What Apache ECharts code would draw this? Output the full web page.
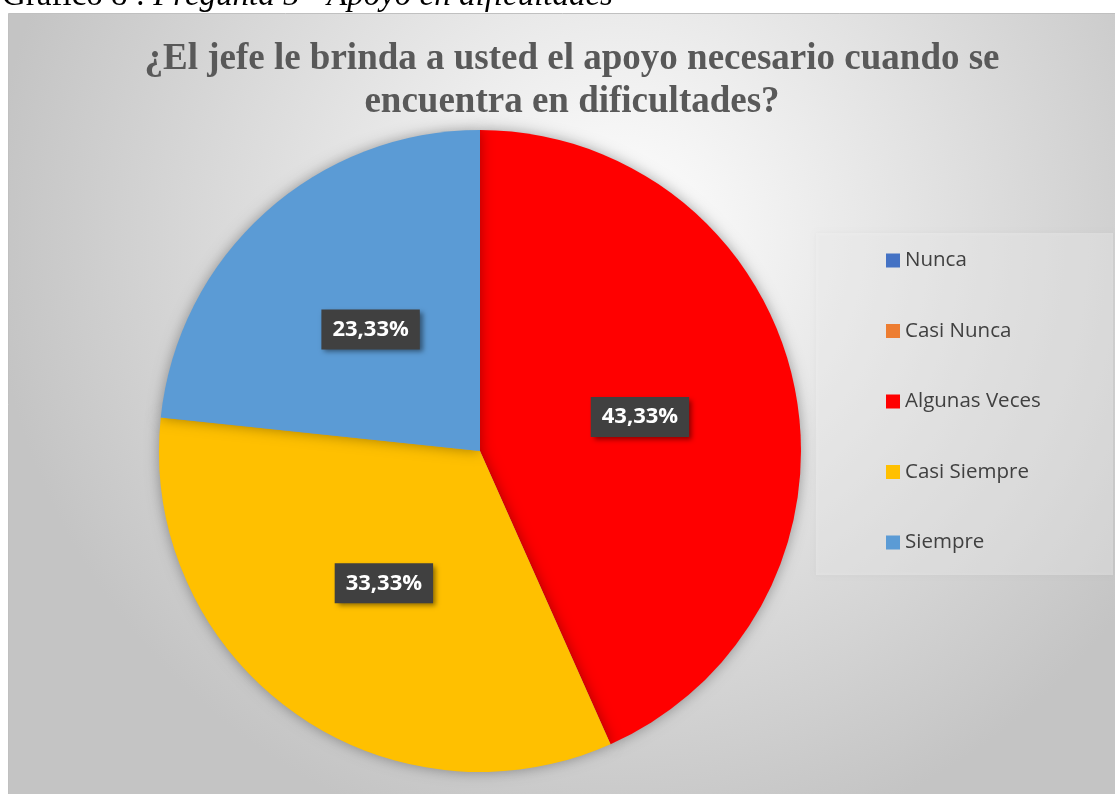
<!DOCTYPE html>
<html>
<head>
<meta charset="utf-8">
<title>Apoyo en dificultades</title>
<script src="https://cdn.jsdelivr.net/npm/echarts@6/dist/echarts.min.js"></script>
<style>
  html, body { margin: 0; padding: 0; background: #fff; }
  #chart { width: 1115px; height: 794px; }
</style>
</head>
<body>
<div id="chart"></div>
<script>
// categorías y valores (porcentajes)
const categories = ['Nunca', 'Casi Nunca', 'Algunas Veces', 'Casi Siempre', 'Siempre'];
const values = [0, 0, 43.33, 33.33, 23.33];
const colors = ['#4472C4', '#ED7D31', '#FF0000', '#FFC000', '#5B9BD5'];

const myChart = echarts.init(document.getElementById('chart'));

const options = {
    backgroundColor: '#ffffff',
    animation: false,
    color: colors,
    graphic: [
        // leyenda del gráfico (cortada arriba)
        {
            type: 'text',
            left: 2,
            top: -20,
            z: 0,
            style: {
                text: '{n|Gráfico 8 : }{i|Pregunta 5 - Apoyo en dificultades}',
                rich: {
                    n: { fontFamily: 'Liberation Serif', fontSize: 33, fill: '#000' },
                    i: { fontFamily: 'Liberation Serif', fontStyle: 'italic', fontSize: 33, fill: '#000' }
                }
            }
        },
        // área del gráfico con degradado
        {
            type: 'rect',
            z: 1,
            shape: { x: 8.5, y: 13.5, width: 1110, height: 785 },
            style: {
                fill: {
                    type: 'radial', x: 0.55, y: 0.28, r: 0.8,
                    colorStops: [
                        { offset: 0, color: '#ffffff' },
                        { offset: 1, color: '#c4c4c4' }
                    ]
                },
                stroke: '#c0c0c0',
                lineWidth: 1
            }
        },
        // fondo de la leyenda
        {
            type: 'rect',
            z: 2,
            shape: { x: 816, y: 233, width: 297, height: 342 },
            style: {
                fill: 'rgba(246,246,246,0.35)',
                shadowBlur: 4,
                shadowColor: 'rgba(0,0,0,0.1)'
            }
        }
    ],
    title: {
        text: '¿El jefe le brinda a usted el apoyo necesario cuando se\nencuentra en dificultades?',
        left: 567,
        top: 33,
        textAlign: 'center',
        textStyle: {
            fontFamily: 'Liberation Serif',
            fontWeight: 'bold',
            fontSize: 37,
            lineHeight: 43,
            color: '#595959'
        }
    },
    legend: {
        orient: 'vertical',
        left: 881,
        top: 245,
        itemWidth: 14,
        itemHeight: 14,
        itemGap: 49.5,
        icon: 'rect',
        data: categories,
        textStyle: {
            fontFamily: 'Open Sans',
            fontSize: 20.5,
            color: '#404040',
            padding: [0, 0, 0, 0]
        }
    },
    series: [
        {
            name: 'Apoyo',
            type: 'pie',
            center: [480, 451],
            radius: 321,
            startAngle: 90,
            clockwise: true,
            z: 3,
            itemStyle: {
                shadowBlur: 14,
                shadowColor: 'rgba(0,0,0,0.35)'
            },
            emphasis: { disabled: true },
            labelLine: { show: false },
            label: {
                position: 'inside',
                formatter: (p) => p.value.toFixed(2).replace('.', ',') + '%',
                color: '#ffffff',
                fontFamily: 'Open Sans',
                fontWeight: 'bold',
                fontSize: 22,
                lineHeight: 26,
                backgroundColor: '#404040',
                padding: [7, 11],
                shadowColor: 'rgba(0,0,0,0.45)',
                shadowBlur: 5,
                shadowOffsetX: 3,
                shadowOffsetY: 3
            },
            data: categories.map((name, i) => ({
                name: name,
                value: values[i],
                label: { show: values[i] > 0 }
            }))
        }
    ]
};

myChart.setOption(options);
</script>
</body>
</html>
